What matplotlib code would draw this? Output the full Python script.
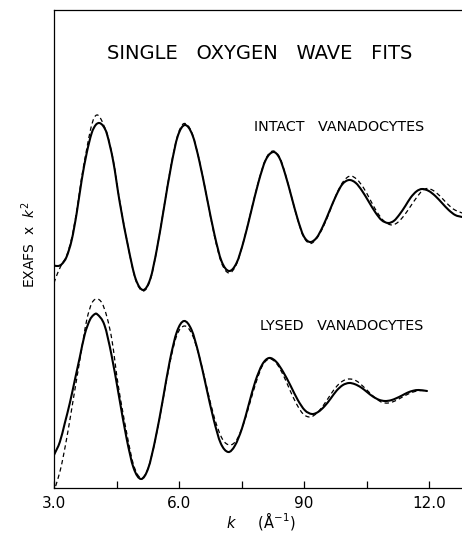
import matplotlib
matplotlib.use("Agg")
import matplotlib.pyplot as plt
from matplotlib.path import Path
from matplotlib.patches import PathPatch

# EXAFS x k^2 (arbitrary units, each trace about its own baseline)
k_intact = [3.00, 3.10, 3.19, 3.30, 3.425, 3.545, 3.665, 3.785, 3.905, 4.00, 4.087,
            4.18, 4.27, 4.42, 4.58, 4.79, 4.96, 5.14, 5.31, 5.47, 5.64, 5.81, 5.97,
            6.14, 6.32, 6.49, 6.67, 6.85, 7.02, 7.20, 7.38, 7.55, 7.73, 7.91, 8.08,
            8.26, 8.41, 8.55, 8.70, 8.85, 8.99, 9.14, 9.30, 9.45, 9.61, 9.77, 9.92,
            10.08, 10.24, 10.39, 10.55, 10.71, 10.86, 11.02, 11.16, 11.29, 11.43,
            11.56, 11.70, 11.83, 11.99, 12.15, 12.31, 12.47, 12.63, 12.79]
intact_obs = [-6.25, -6.30, -6.10, -5.40, -3.70, -1.00, 2.30, 5.00, 7.00, 7.80, 8.00,
              7.70, 6.90, 4.20, 0.00, -4.60, -7.60, -8.70, -7.59, -4.58, -0.45, 3.68, 6.69,
              7.80, 6.82, 4.15, 0.50, -3.15, -5.82, -6.80, -6.00, -3.83, -0.85, 2.13, 4.30,
              5.10, 4.50, 2.85, 0.60, -1.65, -3.30, -3.90, -3.48, -2.35, -0.80, 0.75, 1.88,
              2.30, 2.01, 1.23, 0.15, -0.93, -1.71, -2.00, -1.77, -1.15, -0.30,
              0.55, 1.17, 1.40, 1.21, 0.70, 0.00, -0.70, -1.21, -1.40]

k_intact_fit = [3.00, 3.05, 3.12, 3.19, 3.30, 3.425, 3.545, 3.665, 3.785, 3.88, 3.96,
                4.03, 4.10, 4.20, 4.27, 4.42, 4.58, 4.79, 4.96, 5.14, 5.31, 5.47, 5.64,
                5.81, 5.97, 6.12, 6.30, 6.49, 6.67, 6.85, 7.02, 7.20, 7.38, 7.55, 7.73,
                7.91, 8.08, 8.25, 8.41, 8.55, 8.70, 8.85, 8.99, 9.15, 9.31, 9.47, 9.63,
                9.79, 9.95, 10.11, 10.27, 10.43, 10.59, 10.75, 10.93, 11.11, 11.26,
                11.41, 11.56, 11.71, 11.83, 11.95, 12.10, 12.26, 12.42, 12.58, 12.79]
intact_fit = [-8.00, -7.40, -6.70, -6.10, -5.30, -3.50, -0.80, 2.60, 5.40, 7.40, 8.50,
              8.80, 8.60, 7.70, 7.00, 4.30, 0.10, -4.60, -7.70, -8.80, -7.70, -4.60, -0.40,
              3.80, 6.80, 7.95, 7.10, 4.20, 0.50, -3.30, -6.00, -7.00, -6.10, -3.80, -0.80,
              2.20, 4.40, 5.20, 4.60, 2.90, 0.60, -1.70, -3.40, -4.05, -3.50, -2.30, -0.70,
              1.00, 2.20, 2.70, 2.35, 1.50, 0.30, -0.90, -1.85, -2.20, -1.90,
              -1.20, -0.30, 0.60, 1.20, 1.45, 1.25, 0.70, 0.00, -0.60, -1.00]

k_lysed = [3.00, 3.14, 3.26, 3.38, 3.50, 3.62, 3.74, 3.86, 3.95, 4.03, 4.21, 4.38,
           4.56, 4.74, 4.91, 5.09, 5.26, 5.43, 5.61, 5.78, 5.95, 6.12, 6.30, 6.47,
           6.65, 6.83, 7.00, 7.18, 7.34, 7.51, 7.67, 7.83, 8.00, 8.16, 8.33, 8.50,
           8.68, 8.85, 9.02, 9.19, 9.34, 9.49, 9.64, 9.78, 9.93, 10.08, 10.22, 10.37,
           10.51, 10.65, 10.80, 10.94, 11.08, 11.21, 11.35, 11.48, 11.62, 11.75, 11.95]
lysed_obs = [-6.20, -4.90, -3.00, -1.00, 1.30, 3.60, 5.90, 7.30, 7.80, 7.90, 6.80, 3.80,
             -0.35, -4.50, -7.50, -8.60, -7.54, -4.65, -0.70, 3.25, 6.14, 7.20, 6.32, 3.93,
             0.65, -2.63, -5.02, -5.90, -5.27, -3.55, -1.20, 1.15, 2.87, 3.50, 3.13, 2.10,
             0.70, -0.70, -1.73, -2.10, -1.89, -1.33, -0.55, 0.23, 0.79, 1.00, 0.88, 0.55,
             0.10, -0.35, -0.68, -0.80, -0.73, -0.53, -0.25, 0.03, 0.23, 0.30, 0.20]

k_lysed_fit = [3.04, 3.14, 3.22, 3.34, 3.46, 3.58, 3.70, 3.79, 3.91, 4.03, 4.15, 4.27,
               4.39, 4.54, 4.74, 4.91, 5.09, 5.26, 5.43, 5.61, 5.78, 5.95, 6.13, 6.31,
               6.49, 6.67, 6.85, 7.04, 7.22, 7.38, 7.54, 7.70, 7.86, 8.01, 8.17, 8.33,
               8.50, 8.66, 8.82, 8.98, 9.15, 9.31, 9.47, 9.63, 9.79, 9.95, 10.10, 10.26,
               10.42, 10.58, 10.74, 10.88, 11.02, 11.18, 11.34, 11.50, 11.66, 11.82, 11.95]
lysed_fit = [-9.30, -7.90, -6.40, -3.70, -0.70, 2.30, 5.30, 7.40, 9.00, 9.40, 9.00, 7.60,
             5.30, 0.80, -3.90, -7.20, -8.50, -7.50, -4.70, -0.80, 3.00, 5.80, 6.70, 5.90,
             3.60, 0.50, -2.50, -4.60, -5.20, -4.70, -3.20, -1.00, 1.20, 2.80, 3.40, 3.00,
             1.80, 0.30, -1.10, -2.10, -2.40, -2.00, -1.20, -0.20, 0.70, 1.25, 1.40, 1.20,
             0.65, 0.00, -0.60, -0.95, -1.00, -0.80, -0.45, -0.10, 0.15, 0.25, 0.20]

offsets = {"intact": 28.5, "lysed": 9.5}
xticks_major = [3.0, 6.0, 9.0, 12.0]
xtick_labels = ["3.0", "6.0", "90", "12.0"]
xticks_minor = [4.5, 7.5, 10.5]


def smooth_path(xs, ys):
    """Cubic Hermite path through the read points (drawn as Bezier segments)."""
    n = len(xs)
    slopes = []
    for i in range(n):
        a, b = max(i - 1, 0), min(i + 1, n - 1)
        slopes.append((ys[b] - ys[a]) / (xs[b] - xs[a]))
    verts, codes = [(xs[0], ys[0])], [Path.MOVETO]
    for i in range(n - 1):
        h = (xs[i + 1] - xs[i]) / 3
        verts += [(xs[i] + h, ys[i] + h * slopes[i]),
                  (xs[i + 1] - h, ys[i + 1] - h * slopes[i + 1]),
                  (xs[i + 1], ys[i + 1])]
        codes += [Path.CURVE4] * 3
    return Path(verts, codes)


fig = plt.figure(figsize=(4.62, 5.35), dpi=100)
ax = fig.add_axes([54 / 462, 47 / 535, 408 / 462, 478 / 535])

solid = dict(fill=False, edgecolor="black", lw=1.5, capstyle="round")
dashed = dict(fill=False, edgecolor="black", lw=0.9, ls=(0, (3.5, 2.5)))

for ks, vals, off, style in [(k_intact, intact_obs, offsets["intact"], solid),
                             (k_intact_fit, intact_fit, offsets["intact"], dashed),
                             (k_lysed, lysed_obs, offsets["lysed"], solid),
                             (k_lysed_fit, lysed_fit, offsets["lysed"], dashed)]:
    ax.add_patch(PathPatch(smooth_path(ks, [v + off for v in vals]), **style))

ax.set_xlim(3.0, 12.79)
ax.set_ylim(0, 47.8)
ax.set_xticks(xticks_major)
ax.set_xticklabels(xtick_labels)
ax.set_xticks(xticks_minor, minor=True)
ax.set_yticks([])
ax.tick_params(axis="x", which="both", direction="in", length=5, width=0.9,
               labelsize=11, pad=6)
ax.spines["right"].set_visible(False)
for s in ("left", "top", "bottom"):
    ax.spines[s].set_linewidth(0.9)

ax.text(7.94, 43.4, "SINGLE   OXYGEN   WAVE   FITS", ha="center", va="center",
        fontsize=14)
ax.text(9.84, 36.1, "INTACT   VANADOCYTES", ha="center", va="center", fontsize=10.3)
ax.text(9.89, 16.2, "LYSED   VANADOCYTES", ha="center", va="center", fontsize=10.3)

fig.text(29 / 462, 1 - 245 / 535, "EXAFS  x  $k^2$", rotation=90,
         ha="center", va="center", fontsize=10)
fig.text(261 / 462, 1 - 521 / 535, "$k$     (Å$^{-1}$)", ha="center", va="center",
         fontsize=10.5)

fig.savefig("out.png", dpi=100)
